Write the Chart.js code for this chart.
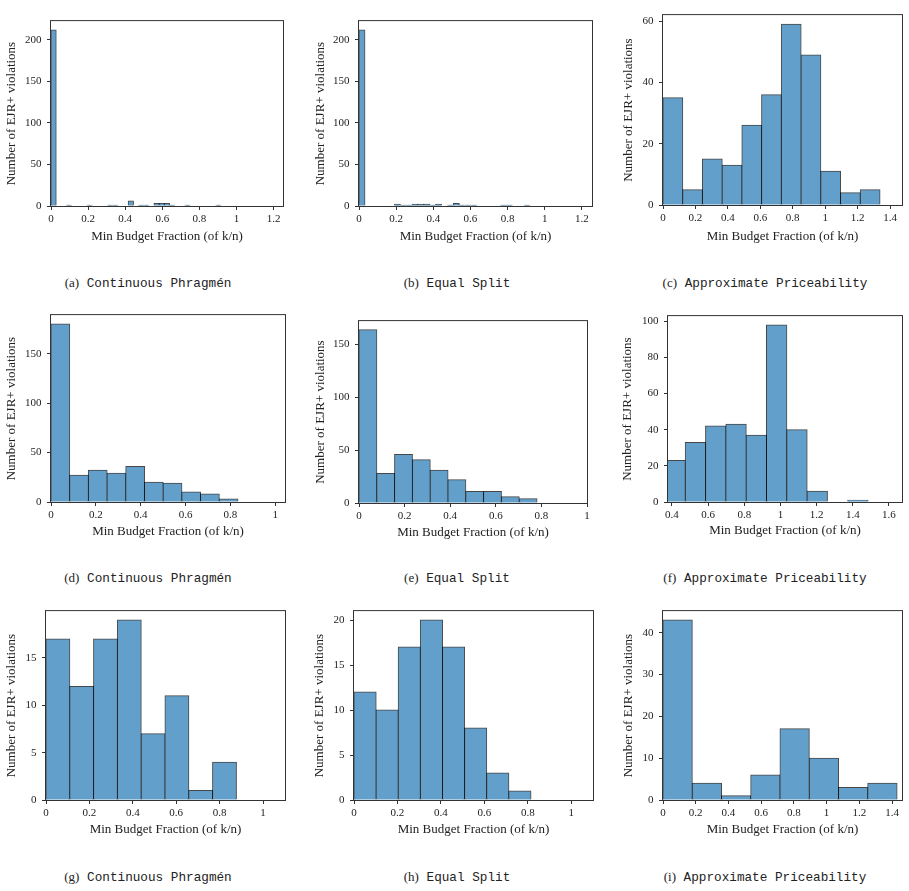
<!DOCTYPE html>
<html>
<head>
<meta charset="utf-8">
<script src="https://cdn.jsdelivr.net/npm/chart.js@4.4.1/dist/chart.umd.min.js"></script>
<style>
  body { margin: 0; background: #fff; }
  #page { position: relative; width: 909px; height: 891px; overflow: hidden; }
  canvas { position: absolute; }
  .cap { position: absolute; transform: translate(-50%, -50%); white-space: nowrap;
         font: 12.7px "Liberation Mono", monospace; color: #222; }
  .cap span { font-family: "Liberation Serif", serif; font-size: 13px; }
</style>
</head>
<body>
<div id="page"></div>
<script>
// counts per bin (a..i)
const countsA = [212,0,0,1,0,0,0,1,0,0,0,1,1,0,0,6,0,1,1,0,3,3,3,1,0,0,1,0,0,0,0,0,1];
const countsB = [212,0,0,0,0,0,2,1,1,2,2,2,1,2,0,1,3,1,1,1,0,0,0,0,1,1,0,0,1];
const countsC = [35,5,15,13,26,36,59,49,11,4,5];
const countsD = [180,27,32,29,36,20,19,10,8,3];
const countsE = [164,28,46,41,31,22,11,11,6,4];
const countsF = [23,33,42,43,37,98,40,6,0,1,0];
const countsG = [17,12,17,19,7,11,1,4];
const countsH = [12,10,17,20,17,8,3,1];
const countsI = [43,4,1,6,17,10,3,4];
const allCounts = [countsA, countsB, countsC, countsD, countsE, countsF, countsG, countsH, countsI];

// histogram bins: first edge and width
const binStart = [0, 0, 0, 0, 0, 0.3613, 0, 0, 0];
const binWidth = [0.02775, 0.03174, 0.12166, 0.08333, 0.07807, 0.11228, 0.10964, 0.1018, 0.17883];

// axis ranges and ticks
const xMin = [0, 0, 0, 0, 0, 0.378, 0, 0, 0];
const xMax = [1.25, 1.254, 1.474, 1.043, 1.0, 1.672, 1.101, 1.1, 1.461];
const yMax = [222.6, 222.6, 62, 189, 172.2, 102.9, 19.95, 21, 45.15];
const xTicks = [
  [0,0.2,0.4,0.6,0.8,1,1.2], [0,0.2,0.4,0.6,0.8,1,1.2], [0,0.2,0.4,0.6,0.8,1,1.2,1.4],
  [0,0.2,0.4,0.6,0.8,1], [0,0.2,0.4,0.6,0.8,1], [0.4,0.6,0.8,1,1.2,1.4,1.6],
  [0,0.2,0.4,0.6,0.8,1], [0,0.2,0.4,0.6,0.8,1], [0,0.2,0.4,0.6,0.8,1,1.2,1.4]
];
const yTicks = [
  [0,50,100,150,200], [0,50,100,150,200], [0,20,40,60],
  [0,50,100,150], [0,50,100,150], [0,20,40,60,80,100],
  [0,5,10,15], [0,5,10,15,20], [0,10,20,30,40]
];
const letters = ['a','b','c','d','e','f','g','h','i'];
const methods = ['Continuous Phragmén', 'Equal Split', 'Approximate Priceability'];
const xTitle = 'Min Budget Fraction (of k/n)';
const yTitle = 'Number of EJR+ violations';

// plot rectangles in the page: left, top, right, bottom
const rects = [
  [51, 13, 283, 206], [359, 13, 592, 206], [663, 7, 902, 205],
  [51, 307, 285, 502], [359, 313, 587, 503], [668, 308, 902, 502],
  [46, 603, 285, 800], [354, 603, 593, 800], [663, 603, 902, 800]
];
const yLabelGap = [39.7, 38.6, 34.3, 39.6, 38.7, 40.3, 34.3, 34.3, 34];
const xLabelGap = [31, 31, 32, 30, 30, 28.5, 30, 30, 30];
const capX = [148, 457, 765];
const capY = [283, 578, 877];

const YW = 48, XH = 40, PT = 4, PR = 8;
const titleSize = 13, tickSize = 11;
const halfLine = titleSize * 1.2 / 2;
const serif = "'Liberation Serif', 'Times New Roman', serif";
Chart.defaults.color = '#222';
Chart.defaults.font.family = serif;

const frame = {
  id: 'frame',
  afterDatasetsDraw(chart) {
    const a = chart.chartArea, ctx = chart.ctx;
    ctx.save();
    ctx.strokeStyle = '#333';
    ctx.lineWidth = 1;
    ctx.strokeRect(a.left - 0.5, a.top - 0.5, a.right - a.left + 1, a.bottom - a.top + 1);
    ctx.restore();
  }
};

const page = document.getElementById('page');

allCounts.forEach((counts, k) => {
  const [L, T, R, B] = rects[k];
  const cv = document.createElement('canvas');
  cv.width = R - L + YW + PR;
  cv.height = B - T + PT + XH;
  cv.style.left = (L - YW) + 'px';
  cv.style.top = (T - PT) + 'px';
  page.appendChild(cv);

  const pts = counts.map((c, i) => ({ x: binStart[k] + binWidth[k] * (i + 0.5), y: c }));

  new Chart(cv, {
    type: 'bar',
    data: {
      datasets: [{
        data: pts,
        backgroundColor: 'rgb(98,160,203)',
        borderColor: 'rgba(0,0,0,0.72)',
        borderWidth: 1,
        borderSkipped: 'bottom',
        inflateAmount: 0.5,
        barPercentage: 1,
        categoryPercentage: 1,
        clip: 0
      }]
    },
    options: {
      responsive: false,
      animation: false,
      events: [],
      layout: { padding: { top: PT, right: PR, left: 0, bottom: 0 } },
      plugins: { legend: { display: false }, tooltip: { enabled: false } },
      scales: {
        x: {
          type: 'linear',
          offset: false,
          min: xMin[k],
          max: xMax[k],
          afterBuildTicks: (ax) => { ax.ticks = xTicks[k].map(v => ({ value: v })); },
          afterFit: (ax) => { ax.height = XH; },
          grid: { display: true, offset: false, drawOnChartArea: false, drawTicks: true, tickLength: 4, color: '#333' },
          border: { display: false },
          ticks: { padding: 3, maxRotation: 0, autoSkip: false, font: { size: tickSize }, callback: (v) => String(v) },
          title: { display: true, text: xTitle, font: { size: titleSize },
                   padding: { top: 0, bottom: XH - xLabelGap[k] - halfLine } }
        },
        y: {
          min: 0,
          max: yMax[k],
          afterBuildTicks: (ax) => { ax.ticks = yTicks[k].map(v => ({ value: v })); },
          afterFit: (ax) => { ax.width = YW; },
          grid: { display: true, drawOnChartArea: false, drawTicks: true, tickLength: 4, color: '#333' },
          border: { display: false },
          ticks: { padding: 5.5, font: { size: tickSize }, callback: (v) => String(v) },
          title: { display: true, text: yTitle, font: { size: titleSize },
                   padding: { top: YW - yLabelGap[k] - halfLine, bottom: 0 } }
        }
      }
    },
    plugins: [frame]
  });

  const cap = document.createElement('div');
  cap.className = 'cap';
  cap.style.left = capX[k % 3] + 'px';
  cap.style.top = capY[Math.floor(k / 3)] + 'px';
  cap.innerHTML = '<span>(' + letters[k] + ')</span> ' + methods[k % 3];
  page.appendChild(cap);
});
</script>
</body>
</html>
